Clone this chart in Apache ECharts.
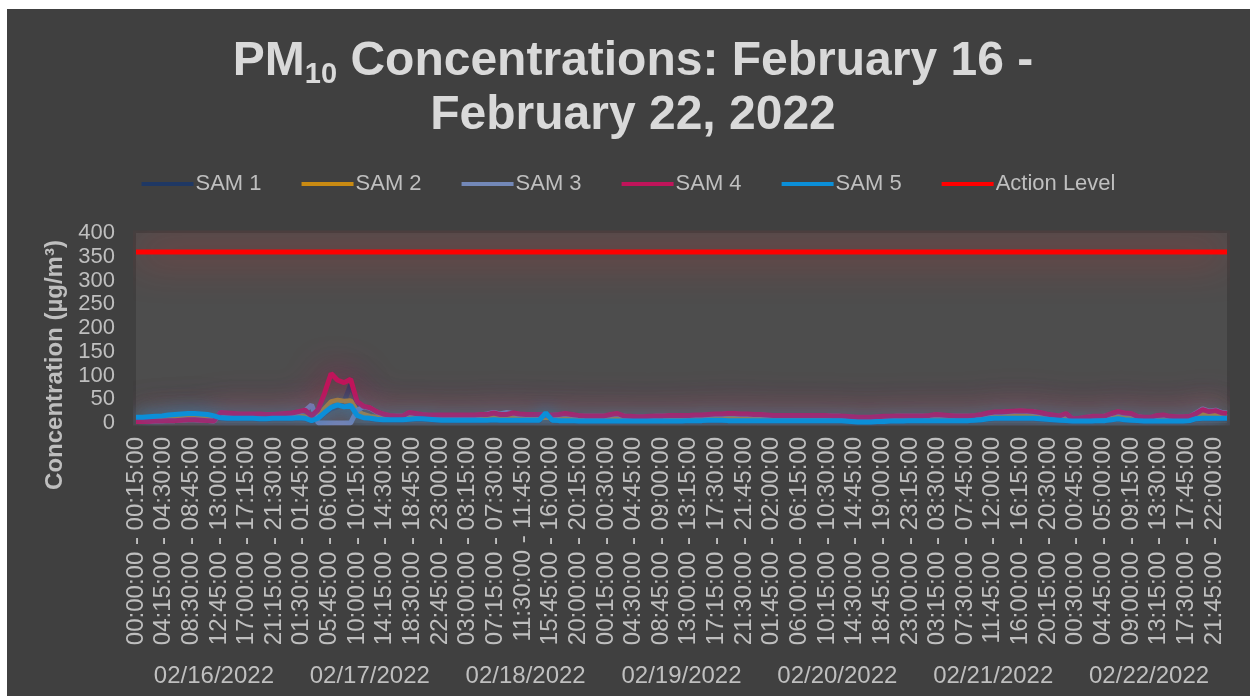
<!DOCTYPE html>
<html>
<head>
<meta charset="utf-8">
<script src="https://cdn.jsdelivr.net/npm/echarts@6/dist/echarts.min.js"></script>
<style>
  html, body { margin: 0; padding: 0; background: #ffffff; }
  #chart { position: absolute; left: 7px; top: 9px; width: 1243px; height: 687px; background: #404040; }
</style>
</head>
<body>
<div id="chart"></div>
<script>
// days shown on the lower axis
const days = ['02/16/2022', '02/17/2022', '02/18/2022', '02/19/2022', '02/20/2022', '02/21/2022', '02/22/2022']
const actionLevel = 360

// hourly readings (plus the last quarter hour)
const sam1 = [
  11,11,12,13,14,16,17,18,19,19,18,17,14,10,9,9,9,9,9,8,8,9,9,9,
  9,10,9,4,9,20,30,34,45,80,45,12,9,7,6,6,6,6,7,8,8,7,6,5,
  5,5,5,5,5,5,5,6,5,5,5,5,5,5,5,18,5,4,4,4,3,3,3,3,
  3,3,3,3,3,3,3,3,3,3,3,3,3,4,4,4,5,5,5,4,4,4,4,4,
  4,4,4,4,4,4,4,4,4,4,4,4,4,3,2,1,1,1,2,2,3,3,3,4,
  4,4,4,4,4,4,4,4,4,5,6,8,9,9,9,9,9,9,9,8,7,6,5,4,
  3,3,3,3,4,4,6,8,6,5,4,3,3,3,3,3,3,3,4,8,9,9,9,9, 9
]
const sam2 = [
  8,8,8,9,9,10,10,11,11,11,10,10,10,13,13,13,13,13,13,12,12,13,13,13,
  13,14,13,8,14,30,45,48,46,47,25,18,14,12,11,11,11,11,12,13,13,12,11,10,
  10,10,10,10,10,10,10,11,10,10,10,10,10,10,10,12,10,9,9,9,8,8,8,8,
  8,8,8,8,8,8,8,8,8,8,8,8,8,9,9,9,10,10,10,9,9,9,9,9,
  9,9,9,9,9,9,9,9,9,9,9,9,9,8,7,6,6,6,7,7,8,8,8,9,
  9,9,9,9,9,9,9,9,9,10,11,13,15,15,15,15,15,15,14,13,12,11,10,9,
  8,8,8,8,9,9,10,12,10,9,8,8,8,8,8,8,8,8,9,15,19,16,20,14, 13
]
const sam3 = [
  3,3,3,4,4,5,5,6,7,7,6,5,4,21,20,19,18,18,18,18,17,17,18,19,
  20,23,26,38,0,0,0,0,0,0,27,34,31,23,18,15,14,14,21,19,17,16,16,16,
  16,16,16,16,16,17,19,22,19,22,20,18,17,17,17,16,16,17,19,17,15,14,14,14,
  14,17,19,14,13,12,12,13,14,14,15,15,15,15,16,16,17,18,18,19,19,18,18,17,
  17,16,15,15,15,15,15,15,15,15,15,14,14,13,12,11,11,11,12,13,13,14,14,14,
  14,14,15,17,16,15,14,14,14,15,17,20,22,22,23,24,25,24,23,21,18,16,14,19,
  8,9,11,13,13,14,19,23,20,19,13,11,11,15,16,13,12,12,13,21,30,25,27,22, 21
]
const sam4 = [
  3,3,3,4,4,5,5,6,7,7,6,5,4,22,21,20,19,19,19,19,18,18,19,20,
  21,24,27,15,28,63,104,90,85,92,45,35,32,24,19,16,15,15,22,20,18,17,17,17,
  17,17,17,17,17,18,18,21,18,18,21,19,18,18,18,17,17,18,20,18,16,15,15,15,
  15,18,20,15,14,13,13,14,15,15,16,16,16,16,17,17,18,19,19,20,20,19,19,18,
  18,17,16,16,16,16,16,16,16,16,16,15,15,14,13,12,12,12,13,14,14,15,15,15,
  15,15,16,18,17,16,15,15,15,16,18,21,23,23,24,25,26,25,24,22,19,17,15,20,
  9,10,12,14,14,15,20,24,21,20,14,12,12,16,17,14,13,13,14,20,28,24,26,21, 20
]
const sam5 = [
  12,12,13,14,15,17,18,19,20,20,19,18,15,11,10,10,10,10,10,9,9,10,10,10,
  10,11,10,5,10,22,33,38,34,37,16,11,10,8,7,7,7,7,8,9,9,8,7,6,
  6,6,6,6,6,6,6,7,6,6,6,6,6,6,6,21,6,5,5,5,4,4,4,4,
  4,4,4,4,4,4,4,4,4,4,4,4,4,5,5,5,6,6,6,5,5,5,5,5,
  5,5,5,5,5,5,5,5,5,5,5,5,5,4,3,2,2,2,3,3,4,4,4,5,
  5,5,5,5,5,5,5,5,5,6,7,9,10,10,10,10,10,10,10,9,8,7,6,5,
  4,4,4,4,5,5,7,9,7,6,5,4,4,4,4,4,4,4,5,9,10,10,10,10, 10
]

// 15-minute interval labels for every day
const pad = n => String(n).padStart(2, '0')
const hm = m => pad(Math.floor(m / 60) % 24) + ':' + pad(m % 60) + ':00'
const slots = []
days.forEach(() => { for (let m = 0; m < 1440; m += 15) slots.push(hm(m) + ' - ' + hm(m + 15)) })
const last = slots.length - 1
const toPoints = arr => arr.map((v, i) => [Math.min(i * 4, last), v])

const textColor = '#bfbfbf'
const font = 'Liberation Sans, Arial, sans-serif'

const mk = (name, arr, color, glow) => ({
  name, type: 'line', data: toPoints(arr), symbol: 'none', xAxisIndex: 0,
  lineStyle: { color, width: 5, shadowBlur: glow, shadowColor: color },
  itemStyle: { color }
})

const chart = echarts.init(document.getElementById('chart'))
chart.setOption({
  backgroundColor: '#404040',
  textStyle: { fontFamily: font },
  title: {
    text: '{t|PM}{s|10}{t| Concentrations: February 16 -}\n{t|February 22, 2022}',
    left: 621, top: 21, textAlign: 'center',
    textStyle: {
      rich: {
        t: { fontSize: 48, fontWeight: 'bold', color: '#d9d9d9', lineHeight: 54, fontFamily: font },
        s: { fontSize: 29, fontWeight: 'bold', color: '#d9d9d9', lineHeight: 29, verticalAlign: 'bottom', fontFamily: font }
      }
    }
  },
  legend: {
    top: 159, left: 'center', icon: 'rect', itemWidth: 52, itemHeight: 4, itemGap: 40,
    textStyle: { color: textColor, fontSize: 22, fontFamily: font, padding: [0, 0, 0, -3] },
    data: ['SAM 1', 'SAM 2', 'SAM 3', 'SAM 4', 'SAM 5', 'Action Level']
  },
  grid: { left: 129, right: 23, top: 224, bottom: 273, show: true, backgroundColor: '#4d4d4d', borderWidth: 0 },
  xAxis: [
    {
      type: 'category', data: slots, boundaryGap: false,
      axisLine: { show: false }, axisTick: { show: false },
      axisLabel: { interval: 16, rotate: 90, color: textColor, fontSize: 24, margin: 14, fontFamily: font }
    },
    {
      type: 'category', data: days, position: 'bottom', boundaryGap: true,
      axisLine: { show: false }, axisTick: { show: false },
      axisLabel: { interval: 0, color: textColor, fontSize: 24, margin: 241, fontFamily: font }
    }
  ],
  yAxis: {
    type: 'value', min: 0, max: 400, interval: 50,
    axisLine: { show: false }, axisTick: { show: false }, splitLine: { show: false },
    axisLabel: { color: textColor, fontSize: 22, margin: 21, fontFamily: font }
  },
  graphic: [{
    type: 'text', x: 48, y: 356, rotation: Math.PI / 2,
    style: { text: 'Concentration (µg/m³)', fill: textColor, font: 'bold 24px ' + font, align: 'center', verticalAlign: 'middle' }
  }],
  series: [
    mk('SAM 1', sam1, '#1f3864', 30),
    mk('SAM 2', sam2, '#c98a12', 24),
    mk('SAM 3', sam3, '#7388b8', 28),
    mk('SAM 4', sam4, '#c0145a', 34),
    mk('SAM 5', sam5, '#0b8fd8', 16),
    {
      name: 'Action Level', type: 'line', symbol: 'none',
      data: [[0, actionLevel], [last, actionLevel]],
      lineStyle: { color: '#ff0000', width: 5, shadowBlur: 42, shadowColor: 'rgba(255,40,40,1)' },
      itemStyle: { color: '#ff0000' }
    }
  ]
})
</script>
</body>
</html>
